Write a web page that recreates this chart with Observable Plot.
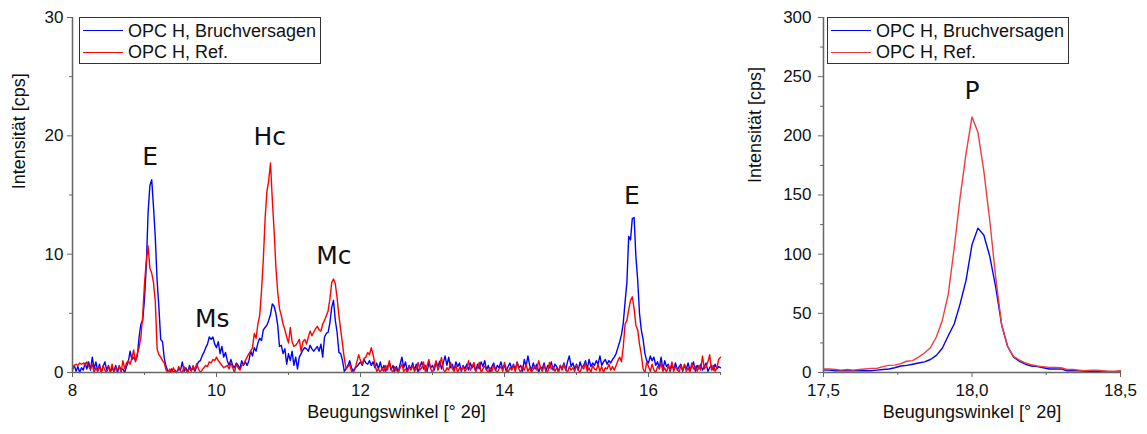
<!DOCTYPE html>
<html>
<head>
<meta charset="utf-8">
<script src="https://cdn.jsdelivr.net/npm/d3@7"></script>
<script src="https://cdn.jsdelivr.net/npm/@observablehq/plot@0.6"></script>
<style>
  html, body { margin: 0; padding: 0; background: #fff; }
  #wrap { position: relative; width: 1147px; height: 434px; overflow: hidden; font-family: "Liberation Sans", Arial, sans-serif; }
  .panel { position: absolute; top: 0; }
  .legend { position: absolute; box-sizing: border-box; border: 1px solid #333; background: #fff; height: 47px; width: 242px; top: 17px; }
  .legend .sw { position: absolute; height: 0; border-top-width: 1.6px; border-top-style: solid; }
  .legend .lb { position: absolute; font-size: 18px; line-height: 18px; color: #111; white-space: nowrap; }
</style>
</head>
<body>
<div id="wrap">
  <div id="left" class="panel" style="left:0px"></div>
  <div id="right" class="panel" style="left:740px"></div>
  <div id="legL" class="legend" style="left:79px"></div>
  <div id="legR" class="legend" style="left:827px"></div>
</div>
<script>
// ---------- series names ----------
const seriesNames = ["OPC H, Bruchversagen", "OPC H, Ref."];

// ---------- left panel: 2θ from 8 to 17 in steps of 0.025 ----------
const leftStart = 8;
const leftStep = 0.025;
const leftBlue = [
  0.3,0.6,0.1,0.5,0.0,0.4,0.2,0.8,0.3,0.9,0.2,1.3,0.3,0.9,0.1,0.7,0.0,0.5,0.9,0.2,
  0.6,0.0,0.4,0.1,0.6,0.0,0.5,0.2,0.3,0.0,0.5,0.9,1.8,1.1,1.3,1.0,1.4,3.0,4.1,4.4,
  6.2,9.0,13.5,15.8,16.3,14.0,11.4,7.8,5.5,2.8,2.6,1.2,0.5,0.1,0.0,0.3,0.0,0.2,0.0,0.3,
  0.2,0.9,0.1,0.4,0.0,0.6,0.2,0.4,0.1,0.5,0.9,1.0,1.4,1.7,2.1,2.4,3.0,2.8,3.0,2.4,
  2.1,2.6,1.6,2.2,1.3,1.7,1.0,0.6,1.1,0.6,0.4,0.8,0.6,0.3,1.0,0.6,0.9,0.6,1.0,1.8,
  1.4,2.1,1.8,2.5,2.9,2.7,3.6,3.8,4.0,4.4,4.9,5.8,5.6,5.0,4.0,2.2,2.3,1.6,2.0,0.7,
  1.6,1.0,1.8,0.6,1.3,0.3,1.3,1.6,1.9,2.1,2.0,1.8,2.3,2.0,1.8,2.0,2.2,1.8,2.4,1.3,
  3.0,3.3,3.4,4.2,5.5,6.1,4.4,3.4,1.7,1.6,1.0,0.1,0.3,0.6,1.0,0.4,0.1,0.4,0.5,0.7,
  0.9,0.6,1.1,0.8,0.7,1.0,0.6,0.9,0.4,0.8,0.3,0.9,0.2,0.6,0.1,0.5,0.8,0.2,0.6,0.1,
  0.5,0.0,0.7,1.3,0.4,0.9,0.1,0.6,0.3,0.8,0.2,0.7,0.0,0.5,0.9,0.3,0.6,0.1,0.8,0.4,
  0.6,0.2,0.9,0.5,0.95,0.3,0.8,1.4,0.6,1.3,0.4,0.7,0.2,0.9,0.5,0.8,0.1,0.6,0.3,0.7,
  0.2,0.8,0.4,0.6,0.1,0.7,0.3,0.9,0.5,1.0,0.2,0.6,0.0,0.5,0.8,0.2,0.6,0.4,0.9,0.3,
  0.6,0.1,0.5,0.8,0.3,0.7,0.2,0.9,0.4,0.6,0.1,1.1,0.5,1.4,0.6,0.2,0.8,0.3,0.7,0.0,
  0.5,0.3,0.8,0.1,0.6,0.4,0.9,0.2,0.7,0.5,0.1,0.6,0.3,0.8,0.2,0.9,1.4,0.5,0.8,0.3,
  0.7,0.2,0.9,0.4,0.6,1.0,0.3,1.1,0.5,0.8,0.6,1.0,0.7,1.4,0.6,0.9,1.1,0.7,1.0,0.8,
  1.1,1.3,1.6,2.1,2.6,3.2,4.2,6.0,7.6,11.5,11.2,13.0,13.1,9.8,7.8,5.0,3.6,2.8,1.6,1.0,
  0.8,1.4,1.0,1.3,0.6,0.9,0.4,1.3,0.2,1.0,0.5,0.7,0.1,0.6,0.3,0.8,0.2,0.5,0.7,0.1,
  0.6,0.3,0.8,0.2,0.5,0.9,0.1,0.6,0.3,0.7,0.2,0.5,0.8,0.1,0.4,0.6,0.2,0.7,0.3,0.5,
  0.4
];
const leftRed = [
  0.2,0.6,0.7,0.6,0.8,0.7,0.8,0.6,0.9,0.5,0.3,0.7,0.0,0.4,0.1,0.5,0.0,0.6,0.2,0.0,
  0.5,0.1,0.7,0.0,0.4,0.2,0.6,0.0,1.0,0.3,0.8,1.0,0.7,1.2,1.9,0.9,1.6,2.1,3.0,4.8,
  7.5,9.4,10.7,8.8,8.4,7.6,6.0,2.0,1.5,1.3,1.0,0.8,0.2,0.0,0.3,0.0,0.4,0.1,0.0,0.5,
  0.1,0.0,0.5,0.2,0.0,0.4,0.1,0.6,0.2,0.75,0.3,0.0,0.2,0.4,0.6,0.5,0.9,0.8,1.1,1.0,
  1.3,1.0,0.8,0.6,0.4,0.5,0.6,0.3,0.8,0.4,0.0,0.7,0.4,0.2,0.6,0.7,1.0,1.3,1.6,1.8,
  2.1,3.3,2.9,4.1,4.8,6.9,9.5,13.0,15.3,16.2,17.7,14.6,12.0,8.9,6.8,5.4,4.8,4.1,3.6,3.0,
  2.5,3.8,2.6,2.2,2.3,2.5,2.8,1.8,2.6,2.8,2.4,3.0,3.5,3.1,3.4,3.7,3.9,3.6,3.5,4.1,
  4.4,4.8,5.2,6.2,7.6,7.9,7.5,6.3,4.8,3.6,2.4,1.2,0.3,0.5,0.7,0.1,0.0,0.3,0.9,1.5,
  1.0,0.7,1.2,1.3,1.7,1.5,2.1,1.5,0.7,0.1,0.3,0.0,0.4,0.1,0.6,0.2,1.0,0.3,0.0,0.5,
  0.2,0.0,0.4,0.7,0.1,0.3,0.0,0.5,0.2,0.6,0.1,0.3,0.85,0.2,0.4,0.9,0.1,0.6,1.1,0.3,
  0.0,0.5,0.99,0.2,0.6,1.27,0.3,0.0,0.4,0.2,0.85,0.3,0.1,0.6,0.0,0.4,0.2,0.5,0.1,0.3,
  0.99,0.2,0.5,0.85,0.1,0.4,0.85,0.0,0.3,0.55,0.2,0.0,0.4,0.1,0.6,0.2,0.0,0.3,0.5,0.1,
  0.85,0.3,0.0,0.4,0.2,0.6,0.1,0.85,0.3,0.0,0.5,0.2,0.7,0.1,0.4,0.0,0.3,0.6,0.2,0.99,
  0.4,0.1,0.6,0.2,0.0,0.85,0.3,0.5,0.1,0.4,0.0,0.6,0.2,0.7,0.3,0.0,0.5,0.2,0.4,0.1,
  0.6,0.2,0.0,0.5,0.3,0.8,0.1,0.4,0.0,0.6,0.3,0.2,0.7,0.1,0.5,0.0,0.4,0.3,0.7,0.2,
  0.5,0.2,0.6,1.0,1.3,0.9,2.2,4.1,4.4,5.3,6.1,6.4,5.4,4.0,3.6,2.4,1.5,0.3,0.0,0.9,
  0.5,0.1,0.7,0.2,0.0,0.5,0.3,0.8,0.1,0.4,0.0,0.6,0.2,0.9,0.1,0.5,0.3,0.0,0.6,0.2,
  0.7,0.1,0.4,0.0,0.8,0.3,0.5,0.1,0.6,0.2,1.4,0.3,0.5,0.9,1.5,0.2,0.6,0.1,0.4,1.1,
  1.3
];

// ---------- right panel: 2θ from 17.5 to 18.5 in steps of 0.02 ----------
const rightStart = 17.5;
const rightStep = 0.02;
const rightBlue = [
  2,2,1.5,1.5,1.5,1.5,1.5,1.5,1.5,2,
  2.5,3,4,5.5,6,7,8,9,11,14.5,
  20.5,31,41,58,78,108,122,116,98,72,
  40,22,13,9.5,7,5.5,5,4,3,3,
  3,1.5,1.5,1.5,1,1,1,0.5,0.5,0.5,
  0.5
];
const rightRed = [
  3,3,2.5,2,2.5,2,2.5,3,3.5,3.5,
  5,6,6.2,7.5,9.5,10,13,16.5,21,30,
  44,66,105,148,185,216,203,170,128,80,
  40,22,13.5,10.5,8,6.5,5.5,4.8,4.3,4.2,
  4,2.5,2.5,2,1.5,2,2,1.5,1,1,
  1.5
];

// ---------- peak labels ----------
const leftPeaks = [
  {x: 9.08, y: 17.5, t: "E"},
  {x: 9.94, y: 3.87, t: "Ms"},
  {x: 10.74, y: 19.2, t: "Hc"},
  {x: 11.63, y: 9.2, t: "Mc"},
  {x: 15.77, y: 14.26, t: "E"}
];
const rightPeaks = [{x: 18.0, y: 231.4, t: "P"}];

// ---------- ticks ----------
const leftXMajor = [8, 10, 12, 14, 16];
const leftXMinor = [9, 11, 13, 15, 17];
const leftYMajor = [0, 10, 20, 30];
const leftYMinor = [5, 15, 25];
const rightXMajor = [17.5, 18.0, 18.5];
const rightXMinor = [17.75, 18.25];
const rightYMajor = [0, 50, 100, 150, 200, 250, 300];
const rightYMinor = [25, 75, 125, 175, 225, 275];

const xLabel = "Beugungswinkel [° 2θ]";
const yLabel = "Intensität [cps]";

const blueColor = "#0000ff";
const redLeft = "#ff0000";
const redRight = "#f03c3c";
const axisColor = "#666";
const textColor = "#111";

function rows(arr, start, step) {
  return arr.map((v, i) => ({x: start + i * step, y: v}));
}

function panel(opts) {
  const {width, marginLeft, marginRight, xDomain, yDomain, blue, red, redColor, start, step,
         xMajor, xMinor, yMajor, yMinor, xFmt, yPad, peaks, yLabelDx, yLabelDy} = opts;
  return Plot.plot({
    width, height: 434,
    marginLeft, marginRight, marginTop: 17, marginBottom: 62,
    x: {domain: xDomain},
    y: {domain: yDomain},
    style: {fontFamily: "'Liberation Sans', Arial, sans-serif", fontSize: "17px", color: textColor, background: "transparent", overflow: "visible"},
    marks: [
      Plot.line(rows(blue, start, step), {x: "x", y: "y", stroke: blueColor, strokeWidth: 1.4}),
      Plot.line(rows(red, start, step), {x: "x", y: "y", stroke: redColor, strokeWidth: 1.4}),
      Plot.axisX({ticks: xMajor, tickSize: 5, tickPadding: 6, tickFormat: xFmt, label: null, stroke: axisColor, fill: textColor, fontSize: 17}),
      Plot.axisX({ticks: xMinor, tickSize: 3, tickFormat: () => "", label: null, stroke: axisColor}),
      Plot.axisY({ticks: yMajor, tickSize: 5, tickPadding: yPad, label: null, stroke: axisColor, fill: textColor, fontSize: 17}),
      Plot.axisY({ticks: yMinor, tickSize: 3, tickFormat: () => "", label: null, stroke: axisColor}),
      Plot.ruleY([yDomain[0]], {stroke: axisColor, strokeWidth: 1.5}),
      Plot.ruleX([xDomain[0]], {stroke: axisColor, strokeWidth: 1.5}),
      Plot.text([xLabel], {frameAnchor: "bottom", text: d => d, dy: 39.5, fontSize: 18, fill: textColor, lineAnchor: "middle"}),
      Plot.text([yLabel], {frameAnchor: "left", text: d => d, dx: yLabelDx, dy: yLabelDy, rotate: -90, fontSize: 18, fill: textColor, lineAnchor: "middle"}),
      Plot.text(peaks, {x: "x", y: "y", text: "t", fontSize: 25, fontFamily: "'DejaVu Sans', Verdana, sans-serif", fill: "#111", lineAnchor: "bottom"})
    ]
  });
}

document.getElementById("left").append(panel({
  width: 740, marginLeft: 72, marginRight: 20,
  xDomain: [8, 17], yDomain: [0, 30],
  blue: leftBlue, red: leftRed, redColor: redLeft, start: leftStart, step: leftStep,
  xMajor: leftXMajor, xMinor: leftXMinor, yMajor: leftYMajor, yMinor: leftYMinor,
  xFmt: d => String(d), yPad: 4, peaks: leftPeaks, yLabelDx: -53.7, yLabelDy: -5.7
}));

document.getElementById("right").append(panel({
  width: 407, marginLeft: 83, marginRight: 27,
  xDomain: [17.5, 18.5], yDomain: [0, 300],
  blue: rightBlue, red: rightRed, redColor: redRight, start: rightStart, step: rightStep,
  xMajor: rightXMajor, xMinor: rightXMinor, yMajor: rightYMajor, yMinor: rightYMinor,
  xFmt: d => d.toFixed(1).replace(".", ","), yPad: 7, peaks: rightPeaks, yLabelDx: -68, yLabelDy: -12
}));

function legend(id, red) {
  const el = document.getElementById(id);
  const items = [{c: blueColor, t: seriesNames[0], y: 13}, {c: red, t: seriesNames[1], y: 34.5}];
  for (const it of items) {
    const sw = document.createElement("div");
    sw.className = "sw";
    sw.style.left = "2.5px"; sw.style.width = "40px"; sw.style.top = (it.y - 1) + "px";
    sw.style.borderTopColor = it.c;
    el.append(sw);
    const lb = document.createElement("div");
    lb.className = "lb";
    lb.style.left = "48px"; lb.style.top = (it.y - 9.5) + "px";
    lb.textContent = it.t;
    el.append(lb);
  }
}
legend("legL", redLeft);
legend("legR", redRight);
</script>
</body>
</html>
